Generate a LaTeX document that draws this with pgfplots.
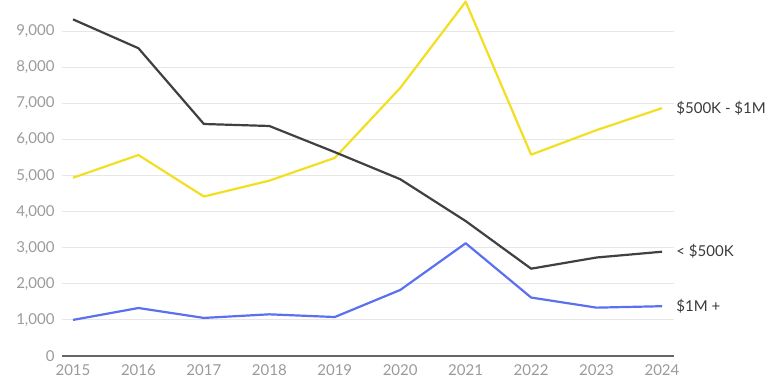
\documentclass[border=0pt]{standalone}
\usepackage{pgfplots}
\pgfplotsset{compat=1.18}
\usetikzlibrary{calc}
\usepackage{fontspec}
\setmainfont{Lato}
\definecolor{cblack}{HTML}{404040}
\definecolor{cyellow}{HTML}{F2DF22}
\definecolor{cblue}{HTML}{5B70F0}
\definecolor{cgrid}{HTML}{E6E6E6}
\definecolor{ctick}{HTML}{9A9A9A}
\definecolor{clabel}{HTML}{3A3A3A}
\begin{document}
\begin{tikzpicture}
\begin{axis}[
  width=612bp, height=356bp, scale only axis,
  xmin=2014.832, xmax=2024.183,
  ymin=0, ymax=9867,
  axis x line*=bottom, axis y line*=left,
  x axis line style={draw=black!60, line width=1.4bp, -},
  y axis line style={draw=none},
  xtick={2015,...,2024},
  ytick={0,1000,...,9000},
  ymajorgrids, major grid style={cgrid, line width=1bp},
  major tick length=0pt,
  scaled y ticks=false,
  /pgf/number format/assume math mode=true,
  yticklabel style={/pgf/number format/1000 sep={,}, font=\fontsize{15bp}{17bp}\selectfont, text=ctick, xshift=-4bp},
  xticklabel style={/pgf/number format/1000 sep={}, font=\fontsize{15bp}{17bp}\selectfont, text=ctick, yshift=-5bp},
  clip=false,
  every axis plot/.append style={line width=2.2bp, mark=none, line join=round},
]
\addplot[cyellow] coordinates {(2015,4940) (2016,5570) (2017,4420) (2018,4860) (2019,5490) (2020,7430) (2021,9820) (2022,5580) (2023,6260) (2024,6870)}
  node[pos=1, anchor=west, xshift=10bp, text=clabel, font=\fontsize{15bp}{17bp}\selectfont] {\$500K - \$1M};
\addplot[cblack] coordinates {(2015,9330) (2016,8530) (2017,6430) (2018,6375) (2019,5650) (2020,4900) (2021,3740) (2022,2420) (2023,2730) (2024,2890)}
  node[pos=1, anchor=west, xshift=10bp, text=clabel, font=\fontsize{15bp}{17bp}\selectfont] {< \$500K};
\addplot[cblue] coordinates {(2015,1000) (2016,1330) (2017,1055) (2018,1155) (2019,1080) (2020,1830) (2021,3125) (2022,1620) (2023,1340) (2024,1380)}
  node[pos=1, anchor=west, xshift=10bp, text=clabel, font=\fontsize{15bp}{17bp}\selectfont] {\$1M +};
\end{axis}
\pgfresetboundingbox
\path ($(current axis.south west)+(-62bp,-30bp)$) rectangle ($(current axis.north east)+(102bp,0)$);
\end{tikzpicture}
\end{document}
